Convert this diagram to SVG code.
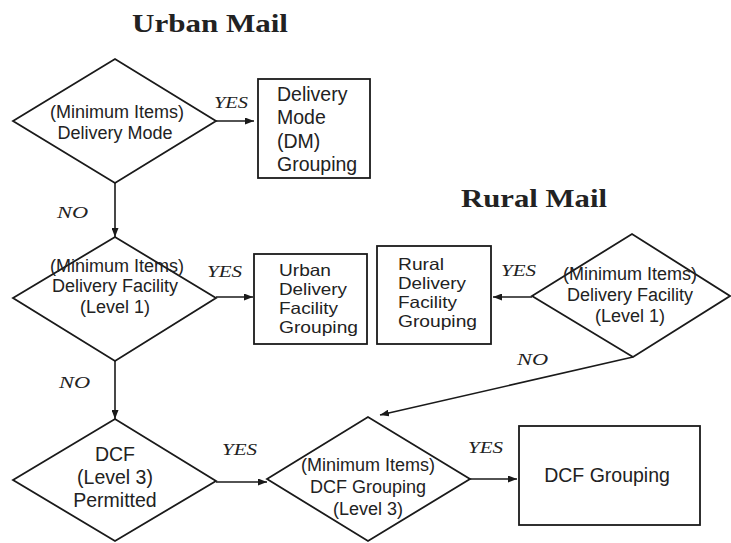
<svg xmlns="http://www.w3.org/2000/svg" width="731" height="543" viewBox="0 0 731 543">
<style>
.shape{fill:#fff;stroke:#1a1a1a;stroke-width:1.8}
.conn{fill:none;stroke:#1a1a1a;stroke-width:1.6;marker-end:url(#ah)}
.dt{font-family:"Liberation Sans",Arial,sans-serif;font-size:18px;fill:#222;text-anchor:middle}
.dt3{font-family:"Liberation Sans",Arial,sans-serif;font-size:19.5px;fill:#222;text-anchor:middle}
.bt{font-family:"Liberation Sans",Arial,sans-serif;font-size:19.5px;fill:#222}
.bs{font-family:"Liberation Sans",Arial,sans-serif;font-size:16.5px;fill:#222}
.lbl{font-family:"Liberation Serif","Times New Roman",serif;font-style:italic;font-size:16px;fill:#222}
.title{font-family:"Liberation Serif","Times New Roman",serif;font-weight:bold;font-size:26px;fill:#222}
</style>
<defs>
<marker id="ah" markerUnits="userSpaceOnUse" markerWidth="9" markerHeight="7" refX="9" refY="3.5" orient="auto">
<path d="M0,0 L9,3.5 L0,7 z" fill="#1a1a1a"/>
</marker>
</defs>
<rect width="731" height="543" fill="#fff"/>

<text class="title" x="132" y="32" textLength="156" lengthAdjust="spacingAndGlyphs">Urban Mail</text>
<text class="title" x="461" y="207" textLength="146" lengthAdjust="spacingAndGlyphs">Rural Mail</text>

<g id="connectors">
<line class="conn" x1="216" y1="121" x2="254" y2="121"/>
<line class="conn" x1="115" y1="183" x2="115" y2="237"/>
<line class="conn" x1="216" y1="297" x2="253" y2="297"/>
<line class="conn" x1="115" y1="361" x2="115" y2="419"/>
<line class="conn" x1="216" y1="482" x2="267" y2="482"/>
<line class="conn" x1="470" y1="479" x2="517" y2="479"/>
<line class="conn" x1="532" y1="297" x2="493" y2="297"/>
<line class="conn" x1="633" y1="357" x2="380" y2="415"/>
<text class="lbl" x="214" y="108" textLength="34" lengthAdjust="spacingAndGlyphs">YES</text>
<text class="lbl" x="57" y="218" textLength="31" lengthAdjust="spacingAndGlyphs">NO</text>
<text class="lbl" x="207" y="277" textLength="35" lengthAdjust="spacingAndGlyphs">YES</text>
<text class="lbl" x="59" y="388" textLength="31" lengthAdjust="spacingAndGlyphs">NO</text>
<text class="lbl" x="222" y="455" textLength="35" lengthAdjust="spacingAndGlyphs">YES</text>
<text class="lbl" x="468" y="453" textLength="35" lengthAdjust="spacingAndGlyphs">YES</text>
<text class="lbl" x="501" y="276" textLength="35" lengthAdjust="spacingAndGlyphs">YES</text>
<text class="lbl" x="517" y="365" textLength="31" lengthAdjust="spacingAndGlyphs">NO</text>
</g>

<g id="d1">
<polygon class="shape" points="13,121 115,59 216,121 115,183"/>
<text class="dt" x="117" y="118">(Minimum Items)</text>
<text class="dt" x="115" y="139">Delivery Mode</text>
</g>

<g id="b1">
<rect class="shape" x="258" y="79" width="112" height="99"/>
<text class="bt" x="277" y="101">Delivery</text>
<text class="bt" x="277" y="124">Mode</text>
<text class="bt" x="277" y="148">(DM)</text>
<text class="bt" x="277" y="171">Grouping</text>
</g>

<g id="d2">
<polygon class="shape" points="13,298 115,237 216,298 115,361"/>
<text class="dt" x="117" y="272">(Minimum Items)</text>
<text class="dt" x="115" y="292">Delivery Facility</text>
<text class="dt" x="115" y="313">(Level 1)</text>
</g>

<g id="b2">
<rect class="shape" x="254" y="254" width="113" height="90"/>
<text class="bs" x="279" y="276" textLength="52" lengthAdjust="spacingAndGlyphs">Urban</text>
<text class="bs" x="279" y="295" textLength="68" lengthAdjust="spacingAndGlyphs">Delivery</text>
<text class="bs" x="279" y="314" textLength="59" lengthAdjust="spacingAndGlyphs">Facility</text>
<text class="bs" x="279" y="333" textLength="79" lengthAdjust="spacingAndGlyphs">Grouping</text>
</g>

<g id="b3">
<rect class="shape" x="377" y="246" width="114" height="98"/>
<text class="bs" x="398" y="270" textLength="46" lengthAdjust="spacingAndGlyphs">Rural</text>
<text class="bs" x="398" y="289" textLength="68" lengthAdjust="spacingAndGlyphs">Delivery</text>
<text class="bs" x="398" y="308" textLength="59" lengthAdjust="spacingAndGlyphs">Facility</text>
<text class="bs" x="398" y="327" textLength="79" lengthAdjust="spacingAndGlyphs">Grouping</text>
</g>

<g id="d3">
<polygon class="shape" points="532,296 632,234 730,296 633,357"/>
<text class="dt" x="630" y="280">(Minimum Items)</text>
<text class="dt" x="630" y="301">Delivery Facility</text>
<text class="dt" x="630" y="322">(Level 1)</text>
</g>

<g id="d4">
<polygon class="shape" points="13,480 115,419 216,481 115,541"/>
<text class="dt3" x="115" y="461">DCF</text>
<text class="dt3" x="115" y="484">(Level 3)</text>
<text class="dt3" x="115" y="507">Permitted</text>
</g>

<g id="d5">
<polygon class="shape" points="267,479 368,417 470,479 368,541"/>
<text class="dt" x="368" y="471">(Minimum Items)</text>
<text class="dt" x="368" y="493">DCF Grouping</text>
<text class="dt" x="368" y="515">(Level 3)</text>
</g>

<g id="b4">
<rect class="shape" x="519" y="426" width="181" height="99"/>
<text class="bt" x="607" y="482" text-anchor="middle">DCF Grouping</text>
</g>
</svg>
